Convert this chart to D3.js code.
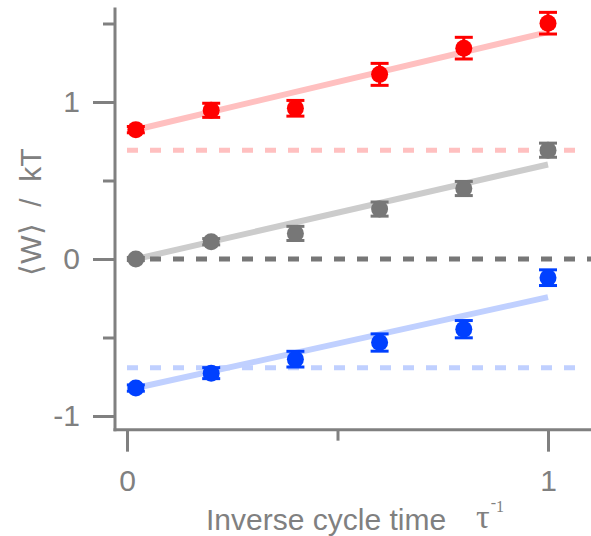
<!DOCTYPE html>
<html><head><meta charset="utf-8">
<script src="https://cdn.jsdelivr.net/npm/d3@7"></script>
<style>body{margin:0;background:#fff}svg{display:block}</style>
</head><body>
<script>
const xs = [0.021, 0.2, 0.4, 0.6, 0.8, 1.0];
const redY = [0.824, 0.947, 0.96, 1.176, 1.343, 1.502];
const redErr = [0.02, 0.045, 0.05, 0.07, 0.069, 0.069];
const grayY = [0.0, 0.11, 0.163, 0.318, 0.449, 0.693];
const grayErr = [0.01, 0.02, 0.045, 0.045, 0.045, 0.045];
const blueY = [-0.822, -0.727, -0.638, -0.532, -0.447, -0.119];
const blueErr = [0.02, 0.035, 0.05, 0.055, 0.055, 0.05];
const fitRed = [0.81, 0.635];   // intercept, slope
const fitGray = [-0.013, 0.615];
const fitBlue = [-0.834, 0.591];
const hRed = Math.LN2, hBlue = -Math.LN2, hGray = 0;
const yMajor = [-1, 0, 1];
const yMinor = [-0.5, 0.5, 1.5];
const xMajor = [0, 1];
const xMinor = [0.5];
const yTitle = "⟨W⟩  /  kT";
const xTitle = "Inverse cycle time";

const W = 591, H = 536;
const svg = d3.select("body").append("svg").attr("width", W).attr("height", H);
const x = d3.scaleLinear().domain([0, 1]).range([127, 548]);
const y = d3.scaleLinear().domain([0, 1]).range([259, 102]);
const axisCol = "#808080";
const font = "Liberation Sans, Arial, sans-serif";
const serif = "Liberation Serif, Times New Roman, serif";
const fmt = d => String(d).replace("−", "-");

// axes
const yAxisG = svg.append("g").attr("transform", `translate(${x(-0.0285)},0)`);
yAxisG.call(d3.axisLeft(y).tickValues(yMajor).tickSize(22).tickSizeOuter(0).tickPadding(13).tickFormat(fmt));
yAxisG.append("g").call(d3.axisLeft(y).tickValues(yMinor).tickSize(12).tickSizeOuter(0).tickFormat(""));
yAxisG.selectAll(".domain").remove();
yAxisG.append("line").attr("x1", 0).attr("x2", 0).attr("y1", y(1.602)).attr("y2", y(-1.087) + 1.5)
  .attr("stroke", axisCol).attr("stroke-width", 3);

const xAxisG = svg.append("g").attr("transform", `translate(0,${y(-1.087)})`);
xAxisG.call(d3.axisBottom(x).tickValues(xMajor).tickSize(22).tickSizeOuter(0).tickPadding(18).tickFormat(fmt));
xAxisG.append("g").call(d3.axisBottom(x).tickValues(xMinor).tickSize(11).tickSizeOuter(0).tickFormat(""));
xAxisG.selectAll(".domain").remove();
xAxisG.append("line").attr("x1", x(-0.0285) - 1.5).attr("x2", x(1.11)).attr("y1", 0).attr("y2", 0)
  .attr("stroke", axisCol).attr("stroke-width", 3);

svg.selectAll(".tick line").attr("stroke", axisCol).attr("stroke-width", 3);
svg.selectAll(".tick text").attr("fill", axisCol).attr("font-size", 30).attr("font-family", font);

// axis titles
svg.append("text").attr("transform", `translate(41,212) rotate(-90)`).attr("text-anchor", "middle")
  .attr("xml:space", "preserve")
  .attr("fill", axisCol).attr("font-size", 30).attr("font-family", font).text(yTitle);
svg.append("text").attr("x", 206).attr("y", 530)
  .attr("fill", axisCol).attr("font-size", 30).attr("font-family", font).text(xTitle);
const tau = svg.append("text").attr("x", 476).attr("y", 528)
  .attr("fill", axisCol).attr("font-family", serif).attr("font-size", 34);
tau.append("tspan").text("τ");
tau.append("tspan").attr("dx", 1).attr("dy", -20).attr("font-size", 16).text("-");
tau.append("tspan").attr("dy", 4).attr("font-size", 16).text("1");

// dashed horizontal lines
function hline(v, x0, x1, col) {
  svg.append("line").attr("x1", x(x0)).attr("x2", x(x1)).attr("y1", y(v)).attr("y2", y(v))
    .attr("stroke", col).attr("stroke-width", 5).attr("stroke-dasharray", "11,12");
}
hline(hRed, 0.0, 1.07, "#ffc0c0");
hline(hBlue, 0.0, 1.07, "#c0d0ff");

// fit lines
function fit(p, col) {
  svg.append("line").attr("x1", x(xs[0])).attr("x2", x(xs[xs.length - 1]))
    .attr("y1", y(p[0] + p[1] * xs[0])).attr("y2", y(p[0] + p[1] * xs[xs.length - 1]))
    .attr("stroke", col).attr("stroke-width", 6);
}
fit(fitRed, "#ffc0c0");
fit(fitGray, "#cccccc");
fit(fitBlue, "#c0d0ff");

hline(hGray, 0.0, 1.12, "#777777");

// points with error bars
function series(vals, errs, col) {
  const g = svg.append("g");
  vals.forEach((v, i) => {
    const cx = x(xs[i]);
    g.append("line").attr("x1", cx).attr("x2", cx).attr("y1", y(v - errs[i])).attr("y2", y(v + errs[i]))
      .attr("stroke", col).attr("stroke-width", 3);
    [v - errs[i], v + errs[i]].forEach(e => {
      g.append("line").attr("x1", cx - 9).attr("x2", cx + 9).attr("y1", y(e)).attr("y2", y(e))
        .attr("stroke", col).attr("stroke-width", 3);
    });
    g.append("circle").attr("cx", cx).attr("cy", y(v)).attr("r", 8.5).attr("fill", col);
  });
}
series(redY, redErr, "#ff0000");
series(grayY, grayErr, "#777777");
series(blueY, blueErr, "#0040ff");
</script>
</body></html>
